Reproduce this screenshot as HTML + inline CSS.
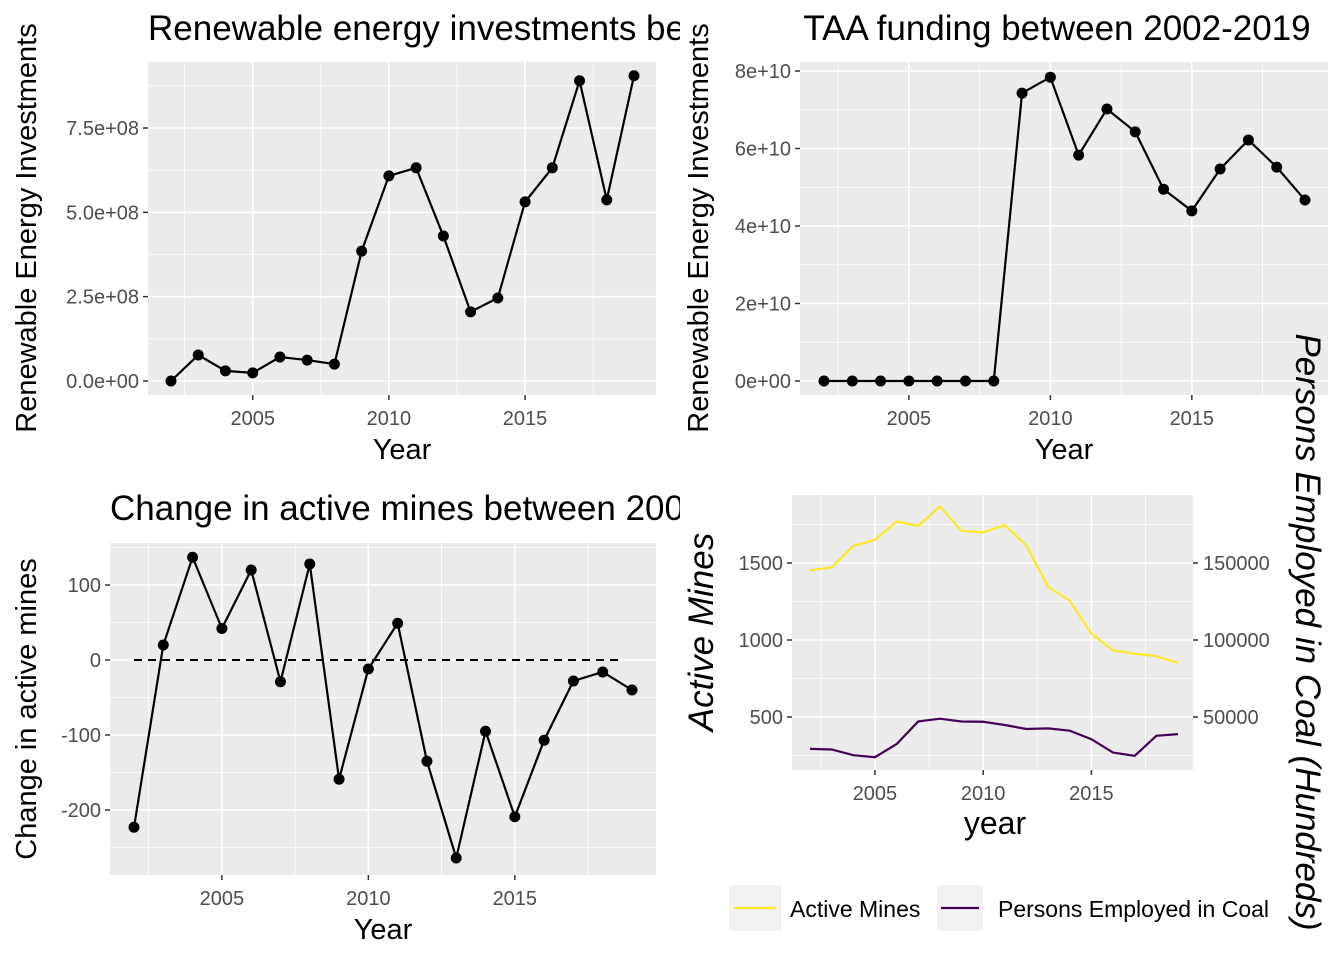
<!DOCTYPE html>
<html><head><meta charset="utf-8"><style>
body{margin:0;background:#fff}
svg{display:block;font-family:"Liberation Sans",sans-serif}
</style></head><body>
<svg id="c" width="1344" height="960" xmlns="http://www.w3.org/2000/svg">
<defs>
<clipPath id="clipL"><rect x="0" y="0" width="680" height="960"/></clipPath>
</defs>
<g id="root"></g>
</svg>
<script>
const years = [2002,2003,2004,2005,2006,2007,2008,2009,2010,2011,2012,2013,2014,2015,2016,2017,2018,2019];
const renewable = [0,0.77e8,0.30e8,0.24e8,0.71e8,0.62e8,0.50e8,3.85e8,6.08e8,6.32e8,4.30e8,2.05e8,2.46e8,5.31e8,6.32e8,8.90e8,5.37e8,9.05e8];
const taa = [0,0,0,0,0,0,0,7.43e10,7.84e10,5.83e10,7.02e10,6.43e10,4.95e10,4.39e10,5.47e10,6.22e10,5.52e10,4.67e10];
const mineChange = [-223,20,137,42,120,-29,128,-159,-12,49,-135,-264,-95,-209,-107,-28,-16,-40];
const activeMines = [1452,1472,1611,1650,1769,1741,1867,1709,1698,1746,1613,1345,1254,1041,933,911,895,852];
const employed = [29300,28900,25200,23900,32400,47100,48900,47100,46900,44800,42200,42600,41100,35600,26900,24800,37800,38900];
const xTicks = [2005,2010,2015];
const renewTicks = [0,2.5e8,5e8,7.5e8];
const renewTickLabels = ["0.0e+00","2.5e+08","5.0e+08","7.5e+08"];
const taaTicks = [0,2e10,4e10,6e10,8e10];
const taaTickLabels = ["0e+00","2e+10","4e+10","6e+10","8e+10"];
const changeTicks = [-200,-100,0,100];
const mineTicks = [500,1000,1500];
const empTicks = [50000,100000,150000];

const NS="http://www.w3.org/2000/svg";
const root=document.getElementById('root');
const TICK=20;
function el(tag,attrs,parent,text){const e=document.createElementNS(NS,tag);for(const k in attrs)e.setAttribute(k,attrs[k]);if(text!==undefined)e.textContent=text;(parent||root).appendChild(e);return e;}

function panel(o){
  const g=el('g',o.clip?{'clip-path':'url(#clipL)'}:{});
  
  
  const X=v=>o.x0+(v-o.xmin)*(o.x1-o.x0)/(o.xmax-o.xmin);
  const Y=v=>o.y0+(v-o.ymin)*(o.y1-o.y0)/(o.ymax-o.ymin);
  const bg=el('rect',{x:o.px0,y:o.py0,width:o.px1-o.px0,height:o.py1-o.py0,fill:'#ebebeb'},g);
  
  
  const xt=o.xticks; const step=xt[1]-xt[0];
  const xmin=[xt[0]-step/2];xt.forEach(t=>xmin.push(t+step/2));
  xmin.forEach(t=>{const x=X(t);if(x>o.px0&&x<o.px1)el('line',{x1:x,x2:x,y1:o.py0,y2:o.py1,stroke:'#fff','stroke-width':0.8},g);});
  const yt=o.yticks; const ys=yt[1]-yt[0];
  const ymn=[yt[0]-ys/2];yt.forEach(t=>ymn.push(t+ys/2));
  ymn.forEach(t=>{const y=Y(t);if(y>o.py0&&y<o.py1)el('line',{x1:o.px0,x2:o.px1,y1:y,y2:y,stroke:'#fff','stroke-width':0.8},g);});
  xt.forEach(t=>{const x=X(t);el('line',{x1:x,x2:x,y1:o.py0,y2:o.py1,stroke:'#fff','stroke-width':1.6},g);
    el('line',{x1:x,x2:x,y1:o.py1,y2:o.py1+5,stroke:'#333','stroke-width':1.5},g);
    const t2=el('text',{x:x,y:o.py1+30,'font-size':TICK,fill:'#4d4d4d','text-anchor':'middle'},g,String(t));
    });
  yt.forEach((t,i)=>{const y=Y(t);el('line',{x1:o.px0,x2:o.px1,y1:y,y2:y,stroke:'#fff','stroke-width':1.6},g);
    el('line',{x1:o.px0-5,x2:o.px0,y1:y,y2:y,stroke:'#333','stroke-width':1.5},g);
    const t2=el('text',{x:o.px0-9,y:y+7,'font-size':TICK,fill:'#4d4d4d','text-anchor':'end'},g,o.ylabels?o.ylabels[i]:String(t));
    });
  return {g,X,Y};
}
function pointsLine(p,vals,color,dots,name){
  const pts=years.map((y,i)=>p.X(y)+','+p.Y(vals[i])).join(' ');
  const l=el('polyline',{points:pts,fill:'none',stroke:color,'stroke-width':2.2},p.g);
  
  if(dots)years.forEach((y,i)=>{const c=el('circle',{cx:p.X(y),cy:p.Y(vals[i]),r:5.5,fill:'#000'},p.g);
    });
}
function txt(x,y,s,size,attrs,name){const t=el('text',Object.assign({x:x,y:y,'font-size':size,fill:'#000'},attrs||{}),root,s);
  return t;}

// Panel 1
let p1=panel({name:'renewable-panel',clip:true,px0:148,px1:656,py0:62,py1:395,x0:171,x1:634,xmin:2002,xmax:2019,y0:381,y1:128,ymin:0,ymax:7.5e8,xticks:xTicks,yticks:renewTicks,ylabels:renewTickLabels});
pointsLine(p1,renewable,'#000',true,'renewable');
txt(148,40,'Renewable energy investments between 2002-2019',35,{'clip-path':'url(#clipL)'},'renewable-title');
txt(402,459,'Year',29,{'text-anchor':'middle'},'renewable-x-title');
txt(0,0,'Renewable Energy Investments',29,{'text-anchor':'middle',transform:'translate(36,228) rotate(-90)'},'renewable-y-title');

// Panel 2
let p2=panel({name:'taa-panel',px0:800,px1:1328,py0:62,py1:395,x0:824,x1:1305,xmin:2002,xmax:2019,y0:381,y1:71,ymin:0,ymax:8e10,xticks:xTicks,yticks:taaTicks,ylabels:taaTickLabels});
pointsLine(p2,taa,'#000',true,'taa');
txt(1057,40,'TAA funding between 2002-2019',35,{'text-anchor':'middle'},'taa-title');
txt(1064,459,'Year',29,{'text-anchor':'middle'},'taa-x-title');
txt(0,0,'Renewable Energy Investments',29,{'text-anchor':'middle',transform:'translate(708,228) rotate(-90)'},'taa-y-title');

// Panel 3
let p3=panel({name:'mine-change-panel',clip:true,px0:110,px1:656,py0:543,py1:875,x0:134,x1:632,xmin:2002,xmax:2019,y0:660,y1:585,ymin:0,ymax:100,xticks:xTicks,yticks:changeTicks});
const dl=el('line',{x1:p3.X(2002),x2:p3.X(2019)-10,y1:p3.Y(0),y2:p3.Y(0),stroke:'#000','stroke-width':2,'stroke-dasharray':'8,6'},p3.g);

pointsLine(p3,mineChange,'#000',true,'mine-change');
txt(110,520,'Change in active mines between 2002-2019',35,{'clip-path':'url(#clipL)'},'mine-change-title');
txt(383,939,'Year',29,{'text-anchor':'middle'},'mine-change-x-title');
txt(0,0,'Change in active mines',29,{'text-anchor':'middle',transform:'translate(36,709) rotate(-90)'},'mine-change-y-title');

// Panel 4
let p4=panel({name:'mines-employment-panel',px0:792,px1:1193,py0:495,py1:770,x0:810,x1:1178,xmin:2002,xmax:2019,y0:640,y1:563,ymin:1000,ymax:1500,xticks:xTicks,yticks:mineTicks});
const empScaled=employed.map(v=>v/100);
pointsLine(p4,activeMines,'#fde725',false,'active-mines');
pointsLine(p4,empScaled,'#440154',false,'persons-employed');
empTicks.forEach(t=>{const y=p4.Y(t/100);
  el('line',{x1:1193,x2:1198,y1:y,y2:y,stroke:'#333','stroke-width':1.5});
  txt(1203,y+7,String(t),TICK,{fill:'#4d4d4d'},'secondary-y-tick-label');});
txt(995,834,'year',32,{'text-anchor':'middle'},'mines-x-title');
txt(0,0,'Active Mines',35,{'text-anchor':'middle','font-style':'italic',transform:'translate(713,632) rotate(-90)'},'active-mines-y-title');
txt(0,0,'Persons Employed in Coal (Hundreds)',35,{'text-anchor':'middle','font-style':'italic',transform:'translate(1296,632) rotate(90)'},'persons-employed-y-title');

// Legend
const lg=el('g',{});

el('rect',{x:729,y:885,width:52,height:46,fill:'#f2f2f2'},lg);
const l1=el('line',{x1:734,x2:776,y1:908,y2:908,stroke:'#fde725','stroke-width':2.2},lg);

txt(790,917,'Active Mines',23,{},'legend-label-active-mines');
el('rect',{x:937,y:885,width:46,height:46,fill:'#f2f2f2'},lg);
const l2=el('line',{x1:941,x2:979,y1:908,y2:908,stroke:'#440154','stroke-width':2.2},lg);

txt(998,917,'Persons Employed in Coal',23,{},'legend-label-persons-employed');
</script>
</body></html>
